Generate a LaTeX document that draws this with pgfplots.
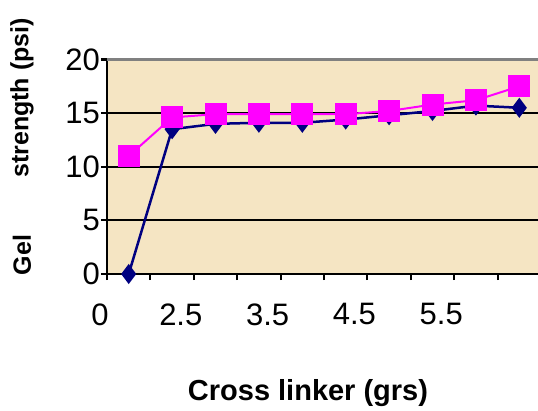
\documentclass[border=0pt]{standalone}
\usepackage{pgfplots}
\pgfplotsset{compat=1.18}
\usepackage{fontspec}
\setmainfont{Liberation Sans}

\definecolor{bgbeige}{RGB}{245,229,195}
\definecolor{navyline}{RGB}{0,0,128}
\definecolor{pinkline}{RGB}{255,0,255}

\begin{document}
\begin{tikzpicture}
\path[use as bounding box] (0,0) rectangle (538pt,410pt);
\begin{axis}[
    at={(107pt,136pt)}, anchor=south west,
    scale only axis,
    width=434pt, height=214.5pt,
    xmin=0, xmax=10,
    ymin=0, ymax=20,
    axis x line*=bottom,
    axis y line*=left,
    axis line style={black, line width=2pt, -},
    xtick={0,1,...,10},
    xticklabels={\hspace*{12pt}0,,2.5,,3.5,,4.5,,5.5,,},
    ytick={0,5,10,15,20},
    ymajorgrids,
    grid style={black, line width=2pt},
    tick align=outside,
    major tick length=6pt,
    tick style={black, line width=2pt},
    tick label style={font=\fontsize{31}{37}\selectfont},
    /pgf/number format/assume math mode=true,
    yticklabel style={inner xsep=1pt},
    xticklabel style={xshift=-13pt, yshift=-20pt},
    axis background/.style={fill=bgbeige},
    clip=false,
]
% top border of the plot area
\draw[gray, line width=3pt] (rel axis cs:0,1) -- (rel axis cs:1,1);

% navy series
\addplot[navyline, line width=2.5pt, mark=diamond*, mark size=8pt]
coordinates {
    (0.5,0)
    (1.5,13.5)
    (2.5,14.0)
    (3.5,14.1)
    (4.5,14.1)
    (5.5,14.4)
    (6.5,14.8)
    (7.5,15.2)
    (8.5,15.7)
    (9.5,15.5)
};

% pink series
\addplot[pinkline, line width=2pt, mark=square*, mark size=10pt]
coordinates {
    (0.5,11.0)
    (1.5,14.6)
    (2.5,14.9)
    (3.5,14.9)
    (4.5,14.9)
    (5.5,14.9)
    (6.5,15.2)
    (7.5,15.8)
    (8.5,16.2)
    (9.5,17.5)
};
\end{axis}

\node[rotate=90, font=\bfseries\fontsize{25}{30}\selectfont] at (22pt,155pt) {Gel};
\node[rotate=90, anchor=west, inner sep=0pt, font=\bfseries\fontsize{25}{30}\selectfont] at (22pt,232pt) {strength (psi)};
\node[font=\bfseries\fontsize{29}{34}\selectfont] at (308pt,17pt) {Cross linker (grs)};
\end{tikzpicture}
\end{document}
